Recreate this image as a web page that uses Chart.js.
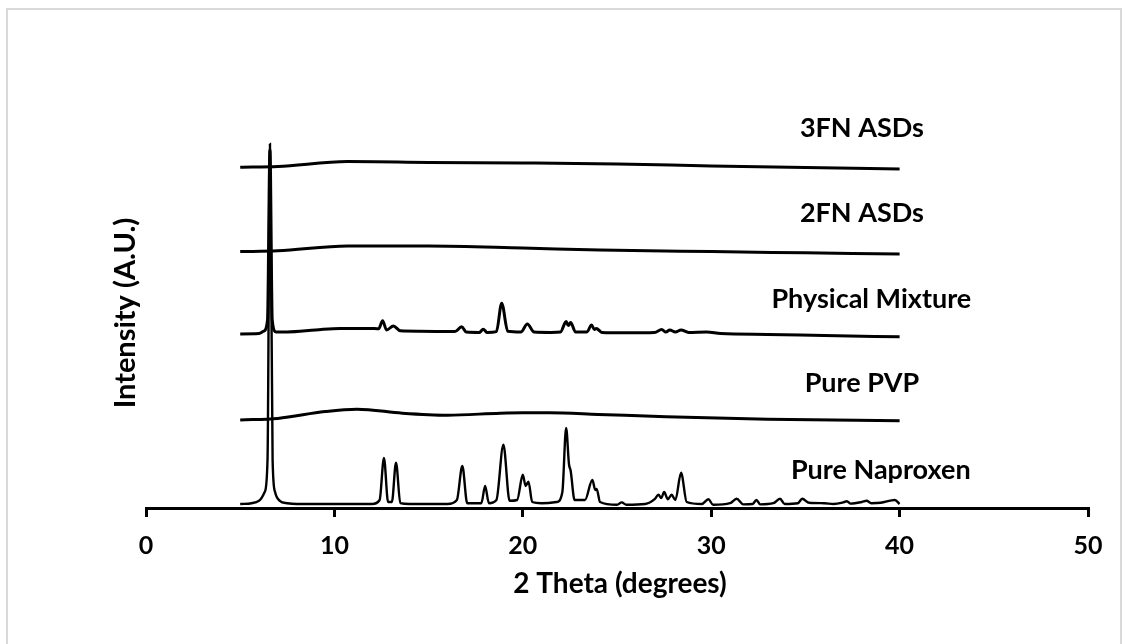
<!DOCTYPE html>
<html>
<head>
<meta charset="utf-8">
<script src="https://cdn.jsdelivr.net/npm/chart.js@4/dist/chart.umd.min.js"></script>
<style>
html,body{margin:0;padding:0;background:#fff;}
#wrap{width:1134px;height:644px;position:relative;}
canvas{display:block;}
</style>
</head>
<body>
<div id="wrap"><canvas id="c" width="1134" height="644"></canvas></div>
<script>
// ---- Data (2θ in degrees, intensity in arbitrary units with vertical offsets) ----
const xTickValues = [0, 10, 20, 30, 40, 50];
const xTitle = "2 Theta (degrees)";
const yTitle = "Intensity (A.U.)";

const naproxenX = [5.0, 5.6, 6.0, 6.3, 6.45, 6.58, 6.72, 6.85, 7.1, 7.5, 8, 10, 12.0, 12.4, 12.63, 12.85, 13.05, 13.27, 13.5, 14, 16, 16.5, 16.79, 17.05, 17.8, 18.0, 18.2, 18.6, 18.97, 19.3, 19.7, 20.0, 20.15, 20.3, 20.5, 21, 21.8, 22.1, 22.3, 22.45, 22.54, 22.75, 23.3, 23.69, 23.85, 23.92, 24.1, 25.0, 25.25, 25.5, 26.5, 27.0, 27.2, 27.35, 27.5, 27.7, 27.9, 28.1, 28.4, 28.7, 29.5, 29.85, 30.1, 31.0, 31.35, 31.7, 32.2, 32.4, 32.6, 33.3, 33.65, 33.9, 34.6, 34.83, 35.2, 36, 36.5, 37.0, 37.2, 37.4, 38.0, 38.25, 38.5, 39.0, 39.75, 40];
const naproxenY = [1.0, 1.2, 1.8, 4, 12, 91, 12, 4, 1.8, 1.2, 1.0, 1.0, 1.0, 2, 12.5, 1.5, 1.5, 11.3, 1.2, 1.0, 1.0, 2, 10.5, 1.2, 1.2, 5.5, 1.2, 2, 15.8, 1.8, 2, 8.3, 5.5, 6.6, 1.5, 1.2, 1.5, 4, 20, 11, 9.3, 2, 2, 7, 4.5, 4.75, 1.5, 0.8, 1.4, 0.8, 1, 2.2, 3.3, 2.5, 4, 2.2, 3.3, 2, 8.8, 1.5, 1.0, 2.2, 0.8, 1.2, 2.3, 0.9, 1, 2, 0.9, 1.2, 2.3, 1, 1.2, 2.3, 1.3, 1.2, 1, 1.4, 1.7, 1.1, 1.5, 1.8, 1.2, 1.3, 2, 1.0];

const pvpX = [5, 7, 9.5, 11.2, 13.6, 16, 18.8, 20, 21.4, 24, 27.6, 33, 40];
const pvpY = [22, 22.4, 24.1, 24.7, 23.7, 23.2, 23.7, 23.8, 23.8, 23.4, 22.8, 22.2, 21.8];

const mixtureX = [5.0, 6.0, 6.25, 6.45, 6.58, 6.7, 6.9, 7.5, 9, 10.3, 11.9, 12.35, 12.56, 12.77, 13.13, 13.5, 14.5, 16.4, 16.75, 17.0, 17.7, 17.9, 18.1, 18.6, 18.88, 19.2, 19.9, 20.24, 20.6, 21.5, 22.0, 22.3, 22.42, 22.54, 22.8, 23.4, 23.65, 23.8, 23.9, 24.2, 25.5, 27.0, 27.37, 27.6, 27.8, 28.1, 28.4, 28.8, 29.76, 30.5, 33, 36, 40];
const mixtureY = [43.5, 43.6, 44.2, 47, 89.5, 47, 44.0, 44.0, 44.5, 44.9, 44.9, 44.8, 46.8, 44.5, 45.5, 44.3, 44.2, 44.1, 45.3, 44.0, 43.9, 44.7, 43.9, 44.1, 51.2, 44.2, 44.0, 46.0, 44.0, 43.9, 44.0, 46.6, 45.6, 46.4, 44.0, 44.0, 45.75, 44.6, 44.9, 43.9, 43.8, 43.9, 44.6, 44.0, 44.5, 44.0, 44.5, 43.9, 44.0, 43.6, 43.4, 43.1, 42.8];

const fn2X = [5, 7, 10.7, 15, 20, 24.1, 30, 35, 40];
const fn2Y = [64.1, 64.3, 65.5, 65.5, 65.0, 64.5, 64.1, 63.8, 63.5];

const fn3X = [5, 7, 10.7, 15, 20, 25, 30, 35, 40];
const fn3Y = [85.2, 85.4, 86.6, 86.4, 86.25, 86.0, 85.5, 85.1, 84.75];

const seriesLabels = ["Pure Naproxen", "Pure PVP", "Physical Mixture", "2FN ASDs", "3FN ASDs"];

// ---- Build datasets ----
function pts(xs, ys){ return xs.map((x,i)=>({x:x, y:ys[i]})); }
const seriesData = [
  pts(naproxenX, naproxenY),
  pts(pvpX, pvpY),
  pts(mixtureX, mixtureY),
  pts(fn2X, fn2Y),
  pts(fn3X, fn3Y)
];
const datasets = seriesData.map((d,i)=>({
  label: seriesLabels[i],
  data: d,
  borderColor: '#000',
  borderWidth: i === 0 ? 2.4 : 3,
  pointRadius: 0,
  fill: false,
  cubicInterpolationMode: 'monotone',
  tension: 0.3
}));

// label anchor positions in data coordinates (x in degrees, y in intensity units)
const labelPos = [
  {x: 39.0, y: 9.5},   // Pure Naproxen
  {x: 38.0, y: 31.2},  // Pure PVP
  {x: 38.5, y: 52.2},  // Physical Mixture
  {x: 38.0, y: 73.8},  // 2FN ASDs
  {x: 38.0, y: 95.0}   // 3FN ASDs
];

const FONT = "Lato, 'Open Sans', sans-serif";

const decor = {
  id: 'decor',
  beforeDraw(chart){
    const ctx = chart.ctx;
    ctx.save();
    ctx.fillStyle = '#fff';
    ctx.fillRect(0,0,chart.width,chart.height);
    ctx.strokeStyle = '#d9d9d9';
    ctx.lineWidth = 2;
    ctx.strokeRect(7, 9, 1114, 660);
    ctx.restore();
  },
  afterDraw(chart){
    const ctx = chart.ctx;
    const xs = chart.scales.x, ys = chart.scales.y;
    ctx.save();
    ctx.fillStyle = '#000';
    ctx.font = "bold 27px " + FONT;
    ctx.textAlign = 'center';
    ctx.textBaseline = 'middle';
    seriesLabels.forEach((t,i)=>{
      ctx.fillText(t, xs.getPixelForValue(labelPos[i].x), ys.getPixelForValue(labelPos[i].y));
    });
    // x axis title
    ctx.font = "bold 28px " + FONT;
    ctx.fillText(xTitle, (xs.left + xs.right)/2 + 3, 584);
    // y axis title
    ctx.font = "bold 29px " + FONT;
    ctx.translate(126, 313);
    ctx.rotate(-Math.PI/2);
    ctx.fillText(yTitle, 0, 0);
    ctx.restore();
  }
};

new Chart(document.getElementById('c'), {
  type: 'line',
  data: { datasets },
  options: {
    responsive: false,
    animation: false,
    devicePixelRatio: 1,
    layout: { padding: { left: 146, right: 46, top: 108, bottom: 0 } },
    plugins: { legend: { display: false }, tooltip: { enabled: false } },
    scales: {
      x: {
        type: 'linear',
        min: 0, max: 50,
        afterBuildTicks(scale){ scale.ticks = xTickValues.map(v=>({value:v})); },
        afterFit(scale){ scale.height = 136; },
        grid: { display: true, drawOnChartArea: false, drawTicks: true, tickLength: 9, color: '#000', lineWidth: 3 },
        border: { display: true, color: '#000', width: 3 },
        ticks: { color: '#000', font: { family: FONT, weight: 'bold', size: 25 }, padding: 14, maxRotation: 0 }
      },
      y: {
        type: 'linear',
        min: 0, max: 100,
        display: false
      }
    }
  },
  plugins: [decor]
});
</script>
</body>
</html>
